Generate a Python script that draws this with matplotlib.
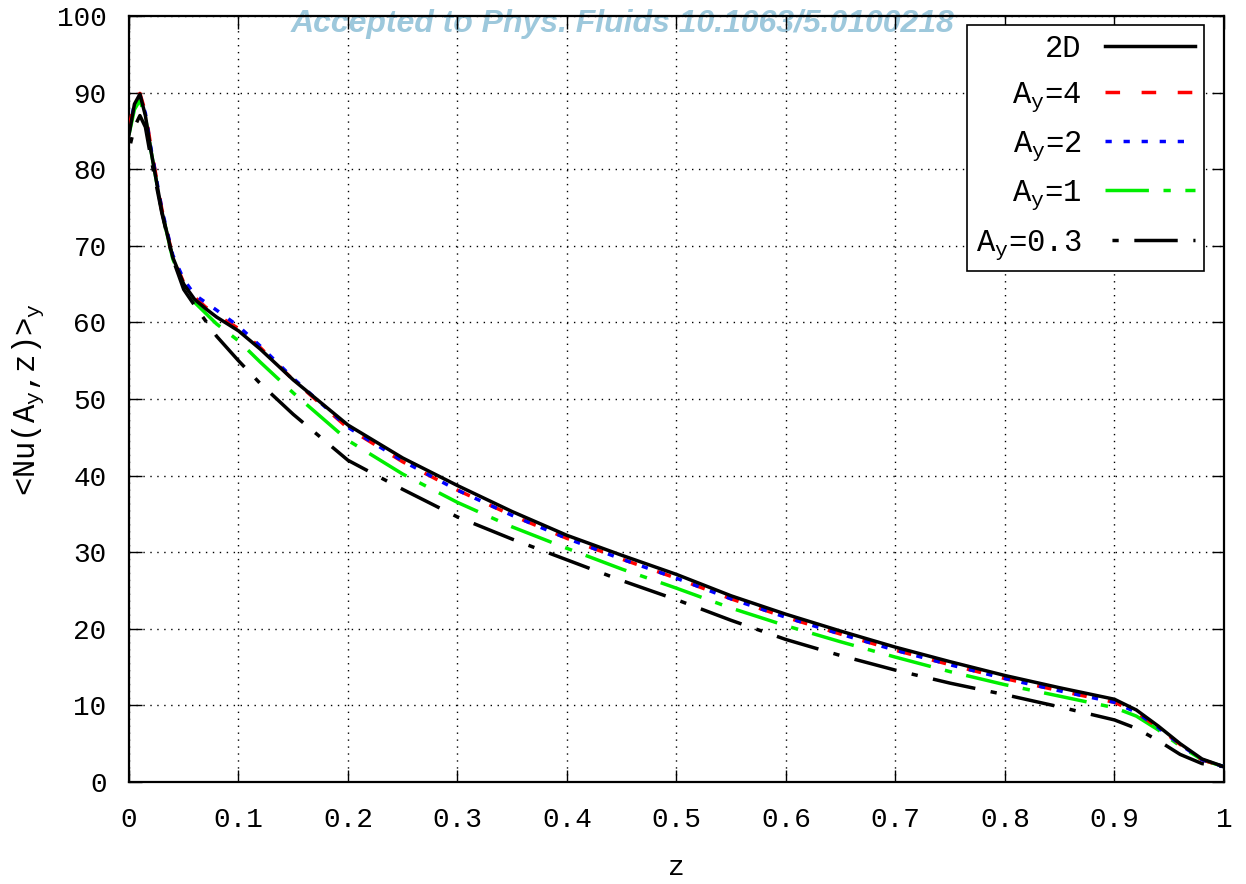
import matplotlib
matplotlib.use('Agg')
import matplotlib.pyplot as plt

plt.rcParams['font.family'] = ['Liberation Mono', 'DejaVu Sans Mono']
plt.rcParams['mathtext.fontset'] = 'custom'
plt.rcParams['mathtext.rm'] = 'Liberation Mono'
plt.rcParams['mathtext.it'] = 'Liberation Mono'

# z positions and <Nu>_y values
z = [0.0, 0.005, 0.01, 0.015, 0.02, 0.03, 0.04, 0.05, 0.06, 0.07, 0.08,
     0.1, 0.12, 0.15, 0.2, 0.25, 0.3, 0.35, 0.4, 0.45, 0.5, 0.55, 0.6,
     0.65, 0.7, 0.75, 0.8, 0.85, 0.9, 0.92, 0.94, 0.96, 0.98, 1.0]

nu_2d = [84.5, 88.5, 89.8, 87.0, 82.5, 74.5, 68.5, 65.0, 63.0, 61.8, 60.7,
         58.9, 56.5, 52.5, 46.6, 42.3, 38.7, 35.3, 32.2, 29.6, 27.1, 24.3, 21.9,
         19.7, 17.6, 15.7, 13.9, 12.3, 10.8, 9.4, 7.3, 5.0, 3.0, 2.0]

nu_ay4 = [85.3, 89.0, 89.9, 87.5, 83.0, 74.8, 68.6, 65.2, 63.3, 62.0, 61.0,
          59.2, 56.7, 52.5, 46.2, 41.8, 38.1, 34.8, 31.8, 29.1, 26.6, 23.9, 21.5,
          19.3, 17.2, 15.3, 13.5, 11.9, 10.4, 9.1, 7.1, 4.9, 2.9, 2.0]

nu_ay2 = [84.8, 88.6, 89.6, 87.3, 82.8, 74.8, 68.8, 65.6, 63.6, 62.6, 61.6,
          59.5, 56.9, 52.7, 46.3, 41.9, 38.1, 34.8, 31.8, 29.1, 26.6, 23.9, 21.5,
          19.3, 17.2, 15.3, 13.5, 11.9, 10.4, 9.1, 7.1, 4.9, 2.9, 2.0]

nu_ay1 = [84.5, 87.8, 89.0, 86.8, 82.5, 74.5, 68.3, 64.8, 62.6, 61.2, 59.8,
          57.6, 54.8, 50.8, 44.6, 40.2, 36.5, 33.3, 30.5, 27.8, 25.3, 22.7, 20.4,
          18.3, 16.3, 14.4, 12.7, 11.2, 9.7, 8.6, 6.8, 4.7, 2.9, 2.0]

nu_ay03 = [82.5, 85.5, 87.0, 85.5, 81.5, 74.3, 68.3, 64.3, 62.2, 60.2, 58.2,
           55.0, 52.0, 48.0, 42.0, 38.2, 34.6, 31.7, 29.0, 26.3, 23.8, 21.1, 18.6,
           16.5, 14.6, 12.9, 11.4, 9.8, 8.1, 7.0, 5.4, 3.6, 2.4, 2.0]

x_ticks = [0, 0.1, 0.2, 0.3, 0.4, 0.5, 0.6, 0.7, 0.8, 0.9, 1]
x_tick_labels = ['0', '0.1', '0.2', '0.3', '0.4', '0.5', '0.6', '0.7', '0.8', '0.9', '1']
y_ticks = [0, 10, 20, 30, 40, 50, 60, 70, 80, 90, 100]

FS = 20
LW = 2.5

fig = plt.figure(figsize=(12.46, 8.84), dpi=100)
fig.patch.set_facecolor('white')
ax = fig.add_axes([0.1035, 0.1154, 0.8788, 0.8665])
ax.set_facecolor('none')

ax.plot(z, nu_2d, color='black', lw=LW, label='2D', zorder=5)
ax.plot(z, nu_ay4, color='#ff0000', lw=LW, linestyle=(0, (4.2, 6.2)),
        label=r'$\mathrm{A_y}$=4', zorder=4)
ax.plot(z, nu_ay2, color='#0000ff', lw=LW, linestyle=(0, (1.8, 3.4)),
        label=r'$\mathrm{A_y}$=2', zorder=4)
ax.plot(z, nu_ay1, color='#00ee00', lw=LW, linestyle=(0, (12.5, 4.2, 2.1, 4.2)),
        label=r'$\mathrm{A_y}$=1', zorder=3)
ax.plot(z, nu_ay03, color='black', lw=LW, linestyle=(15, (12.5, 4.5, 1.8, 4.5)),
        label=r'$\mathrm{A_y}$=0.3', zorder=3)

ax.set_xlim(0, 1)
ax.set_ylim(0, 100)
ax.set_xticks(x_ticks)
ax.set_xticklabels(x_tick_labels)
ax.set_yticks(y_ticks)
ax.tick_params(direction='in', length=9, width=1, labelsize=FS,
               top=True, right=True)
ax.tick_params(axis='x', pad=18)
ax.tick_params(axis='y', pad=16)
ax.grid(True, color='black', linestyle=(0, (1, 4)), linewidth=1)
for sp in ax.spines.values():
    sp.set_linewidth(1.6)

ax.set_xlabel('z', fontsize=FS, labelpad=16)
ax.set_ylabel(r'<Nu($\mathrm{A_y}$,z)>$_\mathrm{y}$', fontsize=22, labelpad=8)

leg = ax.legend(loc='upper right', bbox_to_anchor=(0.9817, 0.9883), borderaxespad=0,
                markerfirst=False, fontsize=22, handlelength=2.95, handletextpad=0.75,
                labelspacing=0.5, fancybox=False, framealpha=1, edgecolor='black',
                borderpad=0.3)
leg.get_frame().set_linewidth(1.2)
for t in leg.get_texts():
    t.set_ha('right')
leg.set_zorder(10)

fig.text(0.4995, 0.973, 'Accepted to Phys. Fluids 10.1063/5.0100218',
         family='Liberation Sans', fontsize=23, fontweight='bold', style='italic',
         color='#9dc8dc', ha='center', va='center', zorder=-1)

fig.savefig('out.png', dpi=100)
